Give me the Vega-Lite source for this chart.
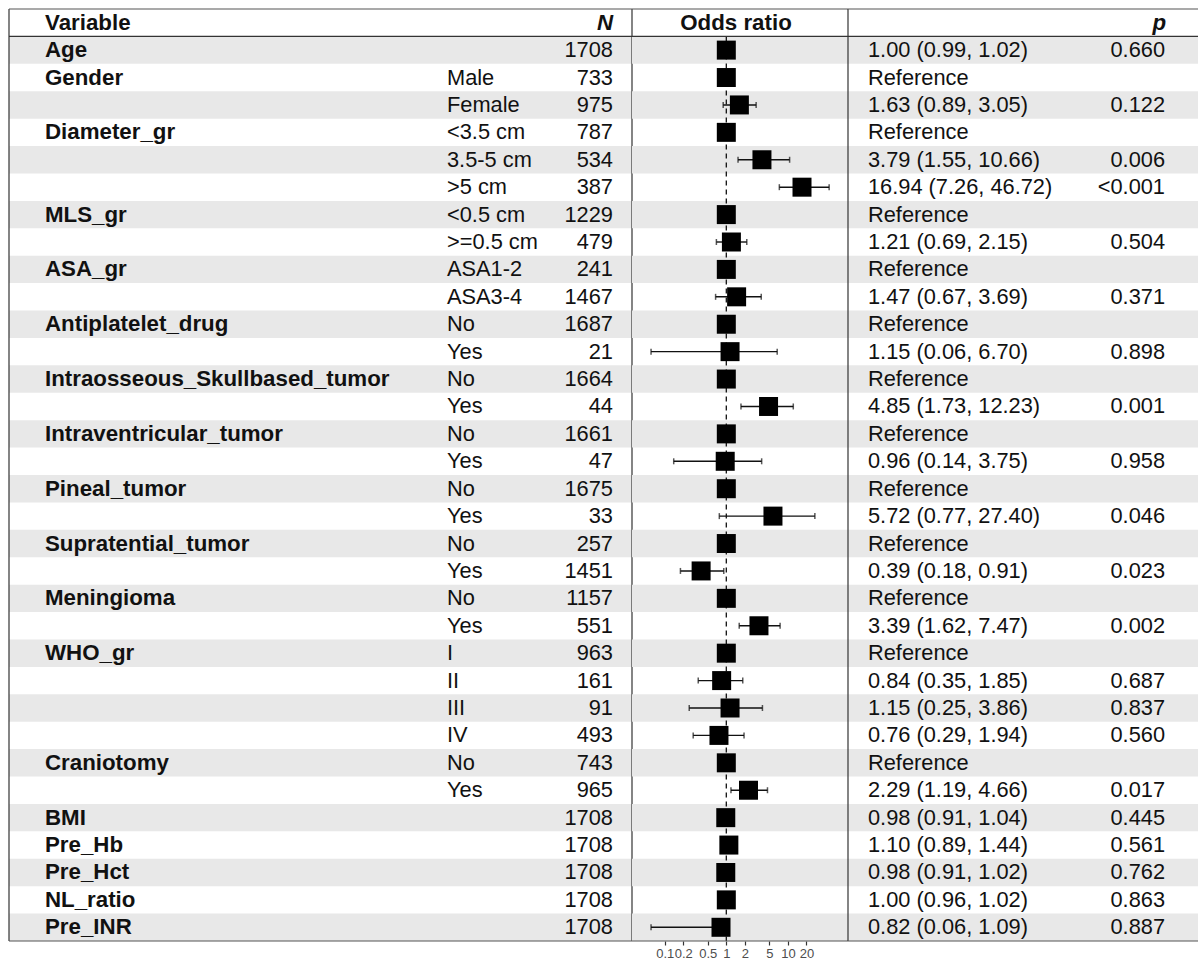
{
  "$schema": "https://vega.github.io/schema/vega-lite/v6.json",
  "padding": {"left": 8, "top": 8, "right": 0, "bottom": 0},
  "autosize": {"type": "pad"},
  "spacing": 0,
  "bounds": "flush",
  "config": {
    "view": {"stroke": null},
    "text": {"font": "Liberation Sans", "fontSize": 21.8, "fill": "#111111", "baseline": "middle"}
  },
  "datasets": {
    "rows": [
      {"row": 1, "variable": "Age", "level": "", "n": "1708", "est": 1.00, "lo": 0.99, "hi": 1.02, "ci": "1.00 (0.99, 1.02)", "p": "0.660"},
      {"row": 2, "variable": "Gender", "level": "Male", "n": "733", "est": 1, "lo": null, "hi": null, "ci": "Reference", "p": ""},
      {"row": 3, "variable": "", "level": "Female", "n": "975", "est": 1.63, "lo": 0.89, "hi": 3.05, "ci": "1.63 (0.89, 3.05)", "p": "0.122"},
      {"row": 4, "variable": "Diameter_gr", "level": "<3.5 cm", "n": "787", "est": 1, "lo": null, "hi": null, "ci": "Reference", "p": ""},
      {"row": 5, "variable": "", "level": "3.5-5 cm", "n": "534", "est": 3.79, "lo": 1.55, "hi": 10.66, "ci": "3.79 (1.55, 10.66)", "p": "0.006"},
      {"row": 6, "variable": "", "level": ">5 cm", "n": "387", "est": 16.94, "lo": 7.26, "hi": 46.72, "ci": "16.94 (7.26, 46.72)", "p": "<0.001"},
      {"row": 7, "variable": "MLS_gr", "level": "<0.5 cm", "n": "1229", "est": 1, "lo": null, "hi": null, "ci": "Reference", "p": ""},
      {"row": 8, "variable": "", "level": ">=0.5 cm", "n": "479", "est": 1.21, "lo": 0.69, "hi": 2.15, "ci": "1.21 (0.69, 2.15)", "p": "0.504"},
      {"row": 9, "variable": "ASA_gr", "level": "ASA1-2", "n": "241", "est": 1, "lo": null, "hi": null, "ci": "Reference", "p": ""},
      {"row": 10, "variable": "", "level": "ASA3-4", "n": "1467", "est": 1.47, "lo": 0.67, "hi": 3.69, "ci": "1.47 (0.67, 3.69)", "p": "0.371"},
      {"row": 11, "variable": "Antiplatelet_drug", "level": "No", "n": "1687", "est": 1, "lo": null, "hi": null, "ci": "Reference", "p": ""},
      {"row": 12, "variable": "", "level": "Yes", "n": "21", "est": 1.15, "lo": 0.06, "hi": 6.70, "ci": "1.15 (0.06, 6.70)", "p": "0.898"},
      {"row": 13, "variable": "Intraosseous_Skullbased_tumor", "level": "No", "n": "1664", "est": 1, "lo": null, "hi": null, "ci": "Reference", "p": ""},
      {"row": 14, "variable": "", "level": "Yes", "n": "44", "est": 4.85, "lo": 1.73, "hi": 12.23, "ci": "4.85 (1.73, 12.23)", "p": "0.001"},
      {"row": 15, "variable": "Intraventricular_tumor", "level": "No", "n": "1661", "est": 1, "lo": null, "hi": null, "ci": "Reference", "p": ""},
      {"row": 16, "variable": "", "level": "Yes", "n": "47", "est": 0.96, "lo": 0.14, "hi": 3.75, "ci": "0.96 (0.14, 3.75)", "p": "0.958"},
      {"row": 17, "variable": "Pineal_tumor", "level": "No", "n": "1675", "est": 1, "lo": null, "hi": null, "ci": "Reference", "p": ""},
      {"row": 18, "variable": "", "level": "Yes", "n": "33", "est": 5.72, "lo": 0.77, "hi": 27.40, "ci": "5.72 (0.77, 27.40)", "p": "0.046"},
      {"row": 19, "variable": "Supratential_tumor", "level": "No", "n": "257", "est": 1, "lo": null, "hi": null, "ci": "Reference", "p": ""},
      {"row": 20, "variable": "", "level": "Yes", "n": "1451", "est": 0.39, "lo": 0.18, "hi": 0.91, "ci": "0.39 (0.18, 0.91)", "p": "0.023"},
      {"row": 21, "variable": "Meningioma", "level": "No", "n": "1157", "est": 1, "lo": null, "hi": null, "ci": "Reference", "p": ""},
      {"row": 22, "variable": "", "level": "Yes", "n": "551", "est": 3.39, "lo": 1.62, "hi": 7.47, "ci": "3.39 (1.62, 7.47)", "p": "0.002"},
      {"row": 23, "variable": "WHO_gr", "level": "I", "n": "963", "est": 1, "lo": null, "hi": null, "ci": "Reference", "p": ""},
      {"row": 24, "variable": "", "level": "II", "n": "161", "est": 0.84, "lo": 0.35, "hi": 1.85, "ci": "0.84 (0.35, 1.85)", "p": "0.687"},
      {"row": 25, "variable": "", "level": "III", "n": "91", "est": 1.15, "lo": 0.25, "hi": 3.86, "ci": "1.15 (0.25, 3.86)", "p": "0.837"},
      {"row": 26, "variable": "", "level": "IV", "n": "493", "est": 0.76, "lo": 0.29, "hi": 1.94, "ci": "0.76 (0.29, 1.94)", "p": "0.560"},
      {"row": 27, "variable": "Craniotomy", "level": "No", "n": "743", "est": 1, "lo": null, "hi": null, "ci": "Reference", "p": ""},
      {"row": 28, "variable": "", "level": "Yes", "n": "965", "est": 2.29, "lo": 1.19, "hi": 4.66, "ci": "2.29 (1.19, 4.66)", "p": "0.017"},
      {"row": 29, "variable": "BMI", "level": "", "n": "1708", "est": 0.98, "lo": 0.91, "hi": 1.04, "ci": "0.98 (0.91, 1.04)", "p": "0.445"},
      {"row": 30, "variable": "Pre_Hb", "level": "", "n": "1708", "est": 1.10, "lo": 0.89, "hi": 1.44, "ci": "1.10 (0.89, 1.44)", "p": "0.561"},
      {"row": 31, "variable": "Pre_Hct", "level": "", "n": "1708", "est": 0.98, "lo": 0.91, "hi": 1.02, "ci": "0.98 (0.91, 1.02)", "p": "0.762"},
      {"row": 32, "variable": "NL_ratio", "level": "", "n": "1708", "est": 1.00, "lo": 0.96, "hi": 1.02, "ci": "1.00 (0.96, 1.02)", "p": "0.863"},
      {"row": 33, "variable": "Pre_INR", "level": "", "n": "1708", "est": 0.82, "lo": 0.06, "hi": 1.09, "ci": "0.82 (0.06, 1.09)", "p": "0.887"}
    ]
  },
  "hconcat": [
    {
      "width": 623,
      "height": 932,
      "layer": [
        {
          "data": {"name": "rows"},
          "transform": [{"filter": "datum.row % 2 == 1"}],
          "mark": {"type": "rect", "fill": "#e8e8e8"},
          "encoding": {
            "y": {"field": "row", "type": "ordinal", "axis": null, "scale": {"domain": [0,1,2,3,4,5,6,7,8,9,10,11,12,13,14,15,16,17,18,19,20,21,22,23,24,25,26,27,28,29,30,31,32,33], "paddingInner": 0, "paddingOuter": 0}},
            "x": {"value": 0},
            "x2": {"value": "width"}
          }
        },
        {
          "data": {"name": "rows"},
          "mark": {"type": "text", "align": "left", "fontWeight": "bold", "fontSize": 22.3},
          "encoding": {
            "y": {"field": "row", "type": "ordinal"},
            "x": {"value": 36},
            "text": {"field": "variable"}
          }
        },
        {
          "data": {"name": "rows"},
          "mark": {"type": "text", "align": "left"},
          "encoding": {
            "y": {"field": "row", "type": "ordinal"},
            "x": {"value": 438},
            "text": {"field": "level"}
          }
        },
        {
          "data": {"name": "rows"},
          "mark": {"type": "text", "align": "right"},
          "encoding": {
            "y": {"field": "row", "type": "ordinal"},
            "x": {"value": 604},
            "text": {"field": "n"}
          }
        },
        {
          "data": {"values": [{"row": 0, "t": "Variable"}]},
          "mark": {"type": "text", "align": "left", "fontWeight": "bold", "fontSize": 22.3},
          "encoding": {
            "y": {"field": "row", "type": "ordinal"},
            "x": {"value": 36},
            "text": {"field": "t"}
          }
        },
        {
          "data": {"values": [{"row": 0, "t": "N"}]},
          "mark": {"type": "text", "align": "right", "fontWeight": "bold", "fontStyle": "italic", "fontSize": 22.3},
          "encoding": {
            "y": {"field": "row", "type": "ordinal"},
            "x": {"value": 604},
            "text": {"field": "t"}
          }
        },
        {
          "data": {"values": [{}]},
          "mark": {"type": "rule", "color": "#333333", "strokeWidth": 1.2},
          "encoding": {"x": {"value": 0}}
        },
        {
          "data": {"values": [{}]},
          "mark": {"type": "rule", "color": "#333333", "strokeWidth": 1.2},
          "encoding": {"x": {"value": "width"}}
        },
        {
          "data": {"values": [{}]},
          "mark": {"type": "rule", "color": "#555555", "strokeWidth": 1.2},
          "encoding": {"y": {"value": 0}}
        },
        {
          "data": {"values": [{}]},
          "mark": {"type": "rule", "color": "#333333", "strokeWidth": 1.2},
          "encoding": {"y": {"datum": 1, "type": "ordinal", "bandPosition": 0}}
        },
        {
          "data": {"values": [{}]},
          "mark": {"type": "rule", "color": "#555555", "strokeWidth": 1.2},
          "encoding": {"y": {"value": "height"}}
        }
      ]
    },
    {
      "width": 216,
      "height": 932,
      "layer": [
        {
          "data": {"name": "rows"},
          "transform": [{"filter": "datum.row % 2 == 1"}],
          "mark": {"type": "rect", "fill": "#e8e8e8"},
          "encoding": {
            "y": {"field": "row", "type": "ordinal", "axis": null, "scale": {"domain": [0,1,2,3,4,5,6,7,8,9,10,11,12,13,14,15,16,17,18,19,20,21,22,23,24,25,26,27,28,29,30,31,32,33], "paddingInner": 0, "paddingOuter": 0}},
            "x": {"value": 0},
            "x2": {"value": "width"}
          }
        },
        {
          "data": {"values": [{}]},
          "mark": {"type": "rule", "color": "#111111", "strokeWidth": 1.3, "strokeDash": [5, 4]},
          "encoding": {
            "x": {"datum": 1, "type": "quantitative"},
            "y": {"datum": 1, "type": "ordinal", "bandPosition": 0},
            "y2": {"value": "height"}
          }
        },
        {
          "data": {"name": "rows"},
          "mark": {"type": "rule", "color": "#111111", "strokeWidth": 1.4},
          "encoding": {
            "y": {"field": "row", "type": "ordinal"},
            "x": {"field": "lo", "type": "quantitative"},
            "x2": {"field": "hi"}
          }
        },
        {
          "data": {"name": "rows"},
          "mark": {"type": "tick", "color": "#111111", "thickness": 1.5, "size": 6, "orient": "vertical"},
          "encoding": {
            "y": {"field": "row", "type": "ordinal"},
            "x": {"field": "lo", "type": "quantitative"}
          }
        },
        {
          "data": {"name": "rows"},
          "mark": {"type": "tick", "color": "#111111", "thickness": 1.5, "size": 6, "orient": "vertical"},
          "encoding": {
            "y": {"field": "row", "type": "ordinal"},
            "x": {"field": "hi", "type": "quantitative"}
          }
        },
        {
          "data": {"name": "rows"},
          "mark": {"type": "point", "shape": "square", "filled": true, "size": 361, "color": "#000000", "opacity": 1},
          "encoding": {
            "y": {"field": "row", "type": "ordinal"},
            "x": {
              "field": "est",
              "type": "quantitative",
              "scale": {"type": "log", "domain": [0.02944, 94.54], "nice": false, "zero": false},
              "axis": {
                "values": [0.1, 0.2, 0.5, 1, 2, 5, 10, 20],
                "format": "~g",
                "title": null,
                "domain": false,
                "grid": false,
                "ticks": true,
                "tickColor": "#333333",
                "tickSize": 4,
                "tickWidth": 1.2,
                "labelFont": "Liberation Sans",
                "labelFontSize": 13,
                "labelColor": "#4d4d4d",
                "labelPadding": 2,
                "labelOverlap": false,
                "labelFlush": false
              }
            }
          }
        },
        {
          "data": {"values": [{"row": 0, "t": "Odds ratio"}]},
          "mark": {"type": "text", "align": "center", "fontWeight": "bold", "fontSize": 22.3},
          "encoding": {
            "y": {"field": "row", "type": "ordinal"},
            "x": {"value": 104},
            "text": {"field": "t"}
          }
        },
        {
          "data": {"values": [{}]},
          "mark": {"type": "rule", "color": "#555555", "strokeWidth": 1.2},
          "encoding": {"y": {"value": 0}}
        },
        {
          "data": {"values": [{}]},
          "mark": {"type": "rule", "color": "#333333", "strokeWidth": 1.2},
          "encoding": {"y": {"datum": 1, "type": "ordinal", "bandPosition": 0}}
        },
        {
          "data": {"values": [{}]},
          "mark": {"type": "rule", "color": "#555555", "strokeWidth": 1.2},
          "encoding": {"y": {"value": "height"}}
        }
      ]
    },
    {
      "width": 351,
      "height": 932,
      "layer": [
        {
          "data": {"name": "rows"},
          "transform": [{"filter": "datum.row % 2 == 1"}],
          "mark": {"type": "rect", "fill": "#e8e8e8"},
          "encoding": {
            "y": {"field": "row", "type": "ordinal", "axis": null, "scale": {"domain": [0,1,2,3,4,5,6,7,8,9,10,11,12,13,14,15,16,17,18,19,20,21,22,23,24,25,26,27,28,29,30,31,32,33], "paddingInner": 0, "paddingOuter": 0}},
            "x": {"value": 0},
            "x2": {"value": "width"}
          }
        },
        {
          "data": {"name": "rows"},
          "mark": {"type": "text", "align": "left"},
          "encoding": {
            "y": {"field": "row", "type": "ordinal"},
            "x": {"value": 20},
            "text": {"field": "ci"}
          }
        },
        {
          "data": {"name": "rows"},
          "mark": {"type": "text", "align": "right"},
          "encoding": {
            "y": {"field": "row", "type": "ordinal"},
            "x": {"value": 317},
            "text": {"field": "p"}
          }
        },
        {
          "data": {"values": [{"row": 0, "t": "p"}]},
          "mark": {"type": "text", "align": "right", "fontWeight": "bold", "fontStyle": "italic", "fontSize": 22.3},
          "encoding": {
            "y": {"field": "row", "type": "ordinal"},
            "x": {"value": 318},
            "text": {"field": "t"}
          }
        },
        {
          "data": {"values": [{}]},
          "mark": {"type": "rule", "color": "#333333", "strokeWidth": 1.2},
          "encoding": {"x": {"value": 0}}
        },
        {
          "data": {"values": [{}]},
          "mark": {"type": "rule", "color": "#555555", "strokeWidth": 1.2},
          "encoding": {"y": {"value": 0}}
        },
        {
          "data": {"values": [{}]},
          "mark": {"type": "rule", "color": "#333333", "strokeWidth": 1.2},
          "encoding": {"y": {"datum": 1, "type": "ordinal", "bandPosition": 0}}
        },
        {
          "data": {"values": [{}]},
          "mark": {"type": "rule", "color": "#555555", "strokeWidth": 1.2},
          "encoding": {"y": {"value": "height"}}
        }
      ]
    }
  ]
}
